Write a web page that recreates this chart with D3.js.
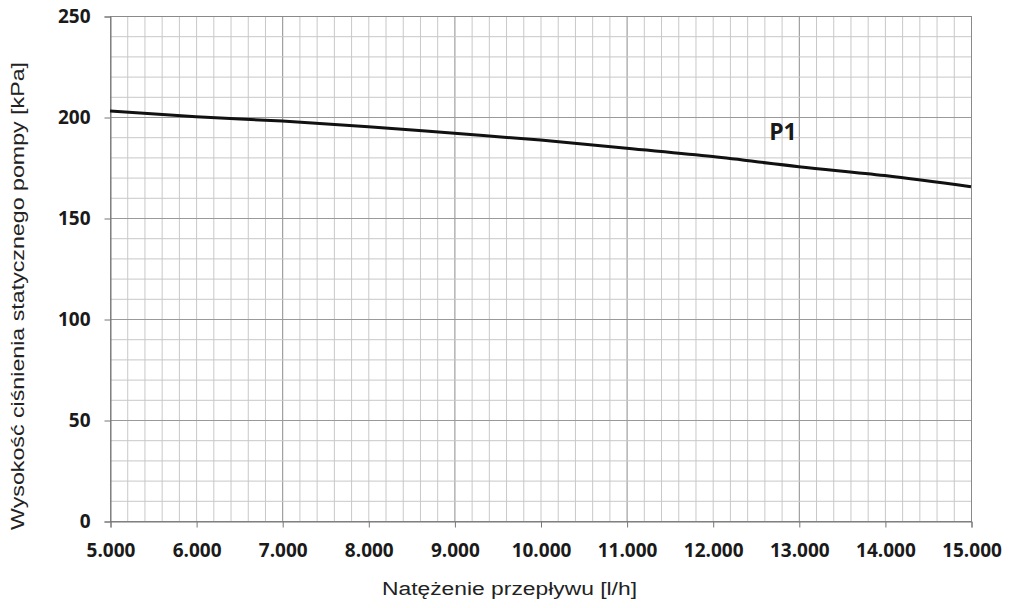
<!DOCTYPE html>
<html>
<head>
<meta charset="utf-8">
<script src="https://cdn.jsdelivr.net/npm/d3@7"></script>
<style>
  html, body { margin: 0; padding: 0; background: #fff; }
  svg { display: block; }
</style>
</head>
<body>
<svg id="chart" width="1009" height="608"></svg>
<script>
// ---- data ----
const flowValues = [5000, 6000, 7000, 8000, 9000, 10000, 11000, 12000, 13000, 14000, 15000];
const pressureP1 = [203, 200.1, 198, 195.2, 191.9, 188.6, 184.5, 180.4, 175.4, 171, 165.5];
const seriesName = "P1";
const seriesLabelAt = [12816, 188.6];
const xTicks = [5000, 6000, 7000, 8000, 9000, 10000, 11000, 12000, 13000, 14000, 15000];
const yTicks = [0, 50, 100, 150, 200, 250];
const xTitle = "Natężenie przepływu [l/h]";
const yTitle = "Wysokość ciśnienia statycznego pompy [kPa]";

// ---- layout ----
const W = 1009, H = 608;
const m = { left: 110, right: 1009 - 971, top: 16, bottom: 608 - 521 };
const svg = d3.select("#chart");

const x = d3.scaleLinear().domain([5000, 15000]).range([m.left, W - m.right]);
const y = d3.scaleLinear().domain([0, 250]).range([H - m.bottom, m.top]);

const loc = d3.formatLocale({ decimal: ",", thousands: ".", grouping: [3], currency: ["", ""] });
const fmt = loc.format(",d");

// ---- grid ----
const g = svg.append("g");
const minorX = d3.range(5000, 15001, 200);
const minorY = d3.range(0, 251, 10);
g.selectAll("line.vx").data(minorX).join("line")
  .attr("x1", d => x(d) + 0.5).attr("x2", d => x(d) + 0.5)
  .attr("y1", y(250)).attr("y2", y(0))
  .attr("stroke", d => d % 2000 === 1000 ? "#8c8c8c" : "#c8c8c8")
  .attr("stroke-width", 1);
g.selectAll("line.hy").data(minorY).join("line")
  .attr("y1", d => y(d) + 0.5).attr("y2", d => y(d) + 0.5)
  .attr("x1", x(5000)).attr("x2", x(15000))
  .attr("stroke", d => d % 50 === 0 ? "#9a9a9a" : "#c8c8c8")
  .attr("stroke-width", 1);

// frame
svg.append("rect")
  .attr("x", x(5000) + 0.5).attr("y", y(250) + 0.5)
  .attr("width", x(15000) - x(5000)).attr("height", y(0) - y(250))
  .attr("fill", "none").attr("stroke", "#8a8a8a");

// ---- axes ----
const fontTick = "'Open Sans', sans-serif";
const xAxis = svg.append("g")
  .attr("transform", `translate(0.5,${y(0) + 0.5})`)
  .call(d3.axisBottom(x).tickValues(xTicks).tickFormat(fmt).tickSize(6).tickPadding(16));
const yAxis = svg.append("g")
  .attr("transform", `translate(${x(5000) + 0.5},0.5)`)
  .call(d3.axisLeft(y).tickValues(yTicks).tickSize(6).tickPadding(14));

[xAxis, yAxis].forEach(a => {
  a.select(".domain").attr("stroke", "#777");
  a.selectAll(".tick line").attr("stroke", "#777");
  a.selectAll(".tick text")
    .attr("fill", "#1a1a1a")
    .style("font-family", fontTick)
    .style("font-weight", 700)
    .style("font-size", "19px");
});

// ---- line ----
const pts = flowValues.map((v, i) => [v, pressureP1[i]]);
svg.append("path")
  .datum(pts)
  .attr("fill", "none")
  .attr("stroke", "#111")
  .attr("stroke-width", 3)
  .attr("d", d3.line().x(d => x(d[0])).y(d => y(d[1])).curve(d3.curveMonotoneX));

svg.append("text")
  .attr("x", x(seriesLabelAt[0])).attr("y", y(seriesLabelAt[1]))
  .attr("text-anchor", "middle")
  .attr("fill", "#1a1a1a")
  .style("font-family", fontTick)
  .style("font-weight", 700)
  .style("font-size", "23px")
  .text(seriesName);

// ---- titles ----
svg.append("text")
  .attr("x", 509.5).attr("y", 595)
  .attr("text-anchor", "middle")
  .attr("fill", "#222")
  .attr("textLength", 255).attr("lengthAdjust", "spacingAndGlyphs")
  .style("font-family", "'Liberation Sans', Arial, sans-serif")
  .style("font-size", "18px")
  .text(xTitle);

svg.append("text")
  .attr("transform", `translate(24,${(62 + 530) / 2}) rotate(-90)`)
  .attr("text-anchor", "middle")
  .attr("fill", "#222")
  .attr("textLength", 468).attr("lengthAdjust", "spacingAndGlyphs")
  .style("font-family", "'Liberation Sans', Arial, sans-serif")
  .style("font-size", "18px")
  .text(yTitle);
</script>
</body>
</html>
